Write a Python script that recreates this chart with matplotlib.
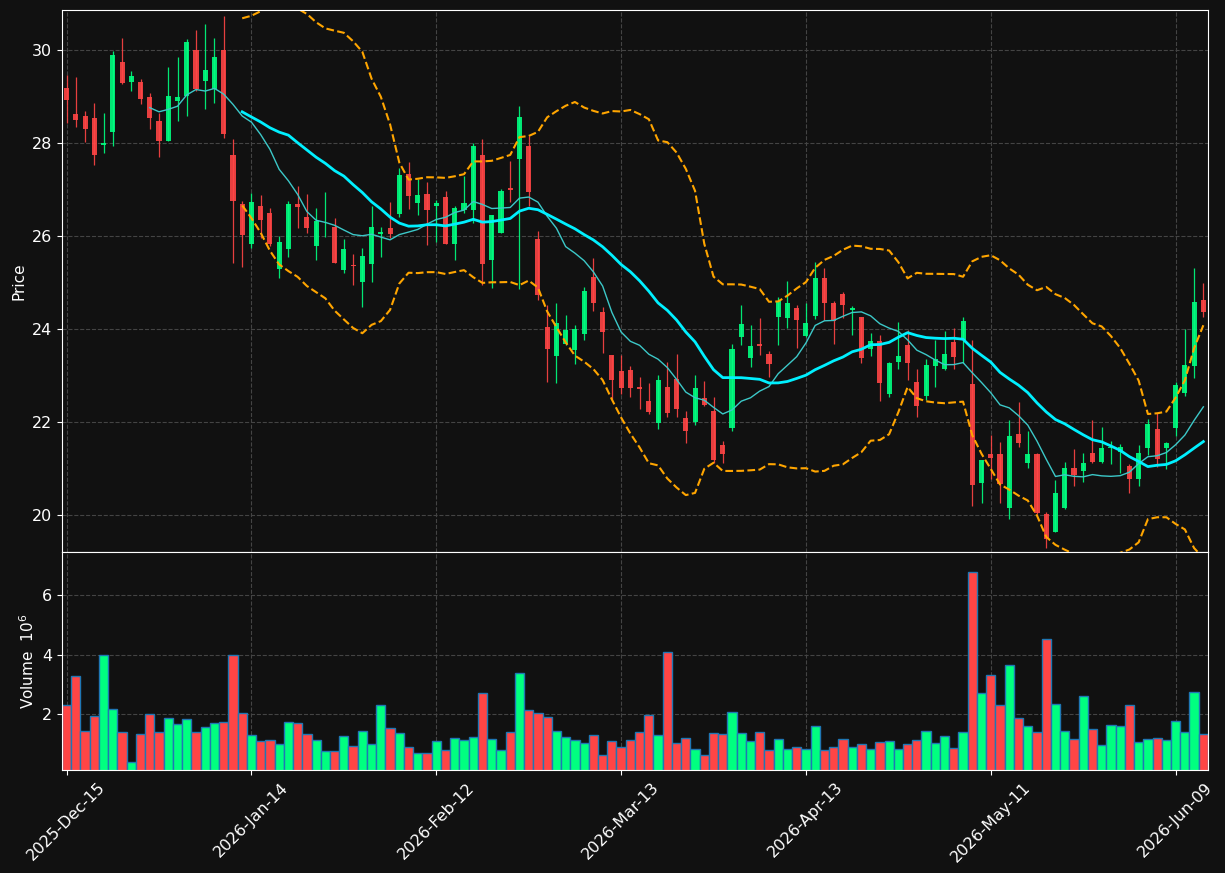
"""
Daily candlestick chart with 10/20 moving averages, Bollinger bands and volume.
"""

import numpy as np
import pandas as pd
import matplotlib
matplotlib.use('Agg')  # Non-interactive backend
import matplotlib.pyplot as plt

# ---- data ----
opens = [29.19, 28.63, 28.59, 28.54, 27.97, 28.25, 29.75, 29.33, 29.32, 28.99,
         28.48, 28.06, 28.92, 29.03, 30.00, 29.35, 29.18, 30.00, 27.75, 26.70,
         25.84, 26.65, 26.50, 25.30, 25.73, 26.70, 26.41, 25.80, 26.30, 26.20,
         25.27, 25.38, 25.02, 25.41, 26.05, 26.18, 26.48, 27.34, 26.72, 26.91,
         26.65, 26.84, 25.84, 26.57, 26.57, 27.75, 25.50, 26.08, 27.04, 27.67,
         27.94, 25.94, 24.05, 23.43, 23.69, 23.56, 23.91, 25.12, 24.37, 23.44,
         23.10, 23.12, 22.75, 22.45, 21.99, 22.76, 22.93, 22.09, 22.01, 22.52,
         22.24, 21.51, 21.88, 23.84, 23.39, 23.68, 23.46, 24.27, 24.25, 24.47,
         23.86, 24.29, 25.10, 24.57, 24.76, 24.42, 24.26, 23.58, 23.75, 22.62,
         23.30, 23.66, 22.87, 22.57, 23.22, 23.14, 23.72, 23.78, 22.82, 20.70,
         21.32, 21.32, 20.16, 21.75, 21.13, 21.32, 20.03, 19.65, 20.16, 21.01,
         20.96, 21.33, 21.15, 21.44, 21.37, 21.06, 20.79, 21.44, 21.85, 21.45,
         21.88, 22.64, 23.22, 24.63]
highs = [29.48, 29.42, 28.70, 28.88, 28.65, 29.99, 30.26, 29.56, 29.38, 29.08,
         28.65, 29.65, 29.86, 30.24, 30.43, 30.58, 30.26, 30.74, 28.09, 26.77,
         26.93, 26.89, 26.62, 26.00, 26.76, 27.08, 26.91, 26.62, 26.96, 26.39,
         25.94, 25.63, 25.74, 26.66, 26.20, 26.74, 27.48, 27.61, 27.23, 27.18,
         26.78, 26.97, 26.66, 27.31, 28.00, 28.10, 26.47, 27.01, 27.63, 28.80,
         28.17, 26.11, 24.53, 24.57, 24.30, 24.09, 24.92, 25.53, 24.49, 23.44,
         23.45, 23.21, 22.97, 22.84, 23.02, 23.29, 23.46, 22.25, 23.01, 22.88,
         22.54, 21.60, 23.68, 24.52, 24.09, 24.24, 23.53, 24.69, 25.03, 24.53,
         24.56, 25.45, 25.33, 24.62, 24.80, 24.50, 24.27, 23.92, 23.87, 23.30,
         24.16, 23.99, 23.14, 23.36, 23.77, 23.96, 24.02, 24.26, 23.77, 21.20,
         21.73, 21.57, 22.06, 22.44, 21.82, 21.33, 20.08, 20.76, 21.15, 21.42,
         21.33, 22.06, 21.89, 21.60, 21.53, 21.11, 21.52, 22.08, 22.20, 21.58,
         22.87, 24.00, 25.33, 24.99]
lows = [28.44, 28.36, 28.04, 27.54, 27.80, 27.95, 29.27, 29.13, 28.84, 28.30,
        27.70, 28.06, 28.48, 28.60, 29.13, 28.75, 28.86, 28.11, 25.43, 25.35,
        25.75, 25.96, 25.79, 25.11, 25.56, 26.17, 26.08, 25.50, 25.99, 25.42,
        25.22, 24.96, 24.48, 25.02, 25.56, 25.96, 26.41, 26.59, 26.47, 25.82,
        25.88, 25.84, 25.50, 26.51, 26.28, 24.95, 24.88, 26.08, 26.75, 24.86,
        26.65, 24.64, 22.87, 22.85, 23.67, 23.25, 23.77, 24.39, 23.50, 22.50,
        22.60, 22.55, 22.29, 22.18, 21.86, 22.12, 22.12, 21.56, 21.95, 22.35,
        21.13, 21.12, 21.82, 23.66, 23.20, 23.44, 22.97, 23.66, 24.02, 23.60,
        23.83, 24.22, 24.21, 23.68, 24.24, 23.87, 23.27, 23.43, 22.45, 22.54,
        23.14, 22.92, 22.12, 22.48, 22.75, 23.13, 23.14, 23.27, 20.19, 20.26,
        20.77, 20.27, 19.93, 21.46, 21.01, 20.03, 19.29, 19.63, 20.13, 20.62,
        20.72, 21.12, 21.13, 21.10, 20.90, 20.47, 20.64, 21.29, 21.03, 20.99,
        21.71, 22.57, 22.95, 24.26]
closes = [28.94, 28.51, 28.31, 27.76, 28.01, 29.90, 29.30, 29.45, 28.96, 28.55,
          28.06, 29.03, 28.99, 30.19, 29.17, 29.57, 29.87, 28.21, 26.77, 26.04,
          26.74, 26.35, 25.83, 25.88, 26.70, 26.64, 26.19, 26.33, 26.31, 25.42,
          25.72, 25.37, 25.58, 26.20, 26.09, 26.05, 27.32, 26.87, 26.88, 26.56,
          26.72, 25.84, 26.61, 26.72, 27.94, 25.41, 26.45, 26.97, 27.00, 28.57,
          26.96, 24.74, 23.58, 24.14, 23.98, 24.01, 24.82, 24.57, 23.95, 22.90,
          22.74, 22.74, 22.72, 22.22, 22.91, 22.21, 22.29, 21.82, 22.74, 22.37,
          21.20, 21.32, 23.58, 24.11, 23.64, 23.65, 23.26, 24.60, 24.56, 24.21,
          24.14, 25.10, 24.57, 24.19, 24.53, 24.47, 23.39, 23.75, 22.85, 23.28,
          23.43, 23.27, 22.36, 23.23, 23.36, 23.48, 23.41, 24.18, 20.65, 21.19,
          21.23, 20.67, 21.71, 21.56, 21.32, 20.04, 19.50, 20.48, 21.01, 20.86,
          21.12, 21.15, 21.44, 21.46, 21.46, 20.79, 21.35, 21.96, 21.22, 21.55,
          22.80, 23.23, 24.59, 24.38]
volumes = [2.29, 3.29, 1.42, 1.93, 3.97, 2.17, 1.39, 0.37, 1.32, 2.00,
           1.39, 1.86, 1.66, 1.83, 1.39, 1.56, 1.69, 1.74, 4.00, 2.03,
           1.29, 1.08, 1.12, 0.98, 1.73, 1.69, 1.32, 1.12, 0.75, 0.75,
           1.25, 0.92, 1.42, 0.98, 2.31, 1.53, 1.36, 0.88, 0.68, 0.68,
           1.08, 0.78, 1.19, 1.12, 1.22, 2.71, 1.15, 0.78, 1.39, 3.39,
           2.14, 2.03, 1.90, 1.42, 1.22, 1.12, 1.02, 1.29, 0.61, 1.08,
           0.88, 1.12, 1.39, 1.97, 1.29, 4.10, 1.02, 1.19, 0.81, 0.61,
           1.36, 1.32, 2.07, 1.36, 1.08, 1.39, 0.78, 1.15, 0.81, 0.88,
           0.81, 1.59, 0.78, 0.88, 1.15, 0.88, 0.98, 0.81, 1.05, 1.08,
           0.81, 0.98, 1.12, 1.42, 1.02, 1.25, 0.85, 1.39, 6.78, 2.71,
           3.32, 2.31, 3.66, 1.86, 1.59, 1.39, 4.51, 2.34, 1.42, 1.15,
           2.61, 1.49, 0.95, 1.63, 1.59, 2.31, 1.05, 1.15, 1.19, 1.12,
           1.76, 1.39, 2.75, 1.32]  # millions

market_holidays = ['2025-12-25', '2026-01-01', '2026-01-19',
                   '2026-02-16', '2026-04-03', '2026-05-25']

# ---- style ----
BG = '#111111'
UP = '#00ff80'
DOWN = '#ff4545'
GRID = '#444444'

dates = pd.bdate_range('2025-12-15', periods=len(closes), freq='C',
                       holidays=market_holidays)
df = pd.DataFrame({'Open': opens, 'High': highs, 'Low': lows,
                   'Close': closes, 'Volume': volumes}, index=dates)

x = np.arange(len(df))
up = df['Close'].values >= df['Open'].values
colors = np.where(up, UP, DOWN)

mav10 = df['Close'].rolling(10).mean()
mav20 = df['Close'].rolling(20).mean()
std20 = df['Close'].rolling(20).std(ddof=0)
bb_upper = mav20 + 2 * std20
bb_lower = mav20 - 2 * std20

fig = plt.figure(figsize=(12.25, 8.73), dpi=100, facecolor=BG)
ax_p = fig.add_axes([0.0506, 0.3677, 0.9355, 0.6208])
ax_v = fig.add_axes([0.0506, 0.118, 0.9355, 0.2497], sharex=ax_p)

# candles
body_lo = np.minimum(df['Open'], df['Close']).values
body_h = np.maximum(np.abs(df['Close'] - df['Open']).values, 0.02)
ax_p.vlines(x, df['Low'], df['High'], colors=colors, linewidth=0.9, alpha=0.9)
ax_p.bar(x, body_h, bottom=body_lo, width=0.55, color=colors, alpha=0.9,
         linewidth=0)

ax_p.plot(x, mav10, color='#3cc8c8', linewidth=1.0)
ax_p.plot(x, mav20, color='#00f0ff', linewidth=2.0)
ax_p.plot(x, bb_upper, color='orange', linewidth=1.5, linestyle='--')
ax_p.plot(x, bb_lower, color='orange', linewidth=1.5, linestyle='--')

# volume
ax_v.bar(x, df['Volume'], width=1.0, color=colors, edgecolor='#1f77b4',
         linewidth=1.0)

ticks = x[::20]
ax_v.set_xticks(ticks)
ax_v.set_xticklabels([d.strftime('%Y-%b-%d') for d in dates[ticks]],
                     rotation=45, ha='center')
ax_v.set_xlim(-0.5, len(df) - 0.5)

ax_p.set_ylim(19.21, 30.87)
ax_p.set_yticks([20, 22, 24, 26, 28, 30])
ax_v.set_ylim(0.3 * min(volumes), 1.1 * max(volumes))
ax_v.set_yticks([2, 4, 6])

ax_p.set_ylabel('Price', color='white', fontsize=11)
ax_v.set_ylabel('Volume  $10^{6}$', color='white', fontsize=11)
plt.setp(ax_p.get_xticklabels(), visible=False)

for ax in (ax_p, ax_v):
    ax.set_facecolor(BG)
    ax.tick_params(colors='white', labelsize=11.5)
    ax.grid(True, color=GRID, linestyle='--', linewidth=0.8)
    ax.set_axisbelow(True)
    for spine in ax.spines.values():
        spine.set_color('white')

plt.savefig('out.png', dpi=100, facecolor=fig.get_facecolor())
plt.close()
